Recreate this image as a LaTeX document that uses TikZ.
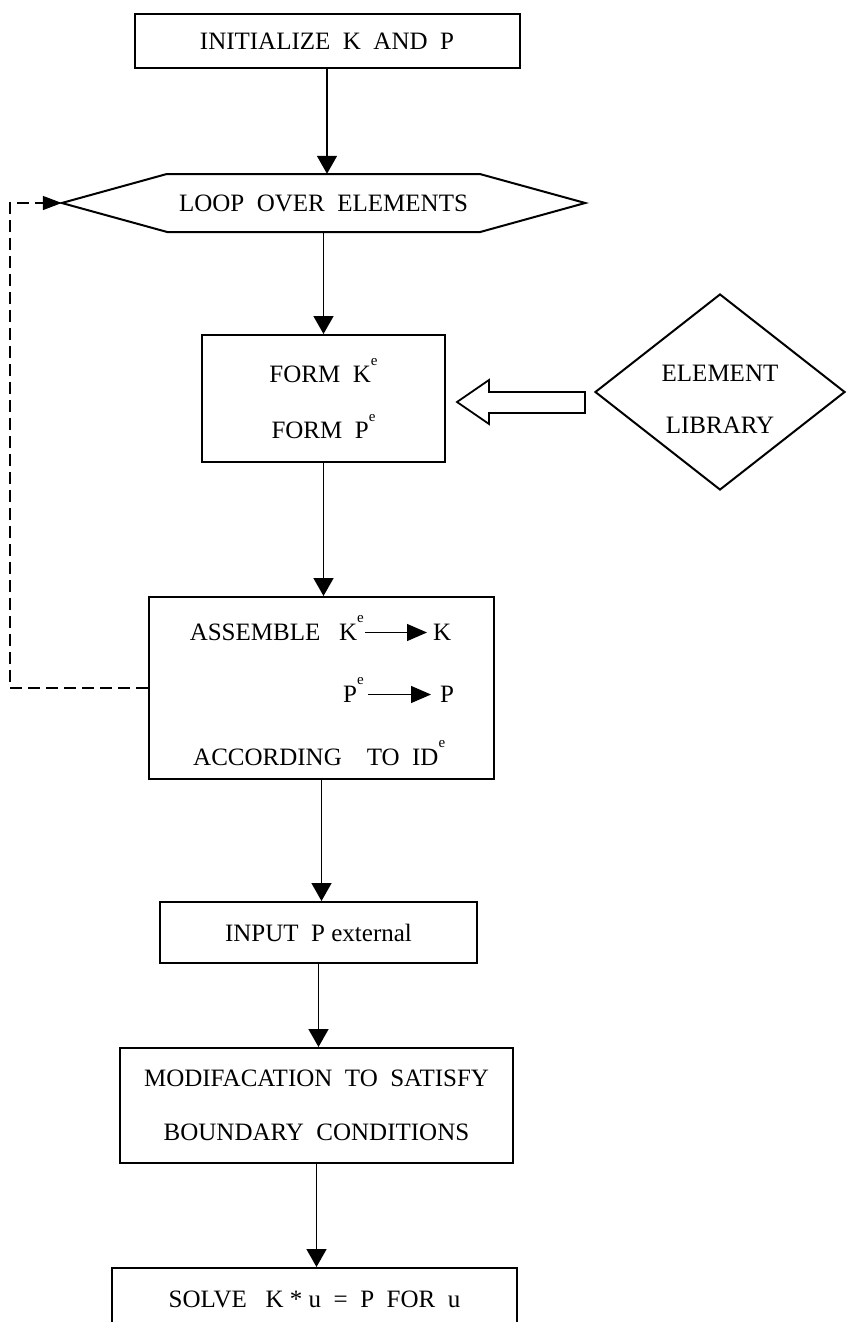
\documentclass[tikz,border=0pt]{standalone}
\usepackage{fontspec}
\setmainfont{Liberation Serif}
\usetikzlibrary{arrows.meta,shapes.geometric}
\newcommand\supe{\raisebox{0.7em}{\fontsize{15}{15}\selectfont e}}
\tikzset{
  txt/.style={font=\fontsize{25}{56}\selectfont},
  box/.style={draw, line width=2pt, txt, align=center, inner sep=0pt},
  flow/.style={line width=1.6pt, -{Triangle[length=18pt,width=20pt]}},
  intext/.style={inner sep=0pt, txt, text height=15pt, text depth=0pt},
  small arrow/.style={line width=1.2pt, -{Triangle[length=20pt,width=17pt]}},
  loopback/.style={line width=1.5pt, dash pattern=on 12pt off 6pt, -{Triangle[length=19pt,width=14pt]}},
}
\begin{document}
\begin{tikzpicture}[x=1pt,y=-1pt]
\useasboundingbox (0,0) rectangle (846,1322);
\clip (0,0) rectangle (846,1322);
\fill[white] (0,0) rectangle (846,1322);

% nodes
\node[box, minimum width=385pt, minimum height=54pt] (init) at (327,41) {INITIALIZE\ \ K\ \ AND\ \ P};

\node[txt, inner sep=0pt, minimum width=523pt, minimum height=58pt] (loop) at (323.5,203) {LOOP\ \ OVER\ \ ELEMENTS};
\draw[line width=2pt] (loop.west) -- ++(105,-29) -- ++(313,0) -- (loop.east) -- ++(-105,29) -- ++(-313,0) -- cycle;

\node[box, minimum width=243pt, minimum height=127pt] (form) at (323.5,398.5) {FORM\ \ K\supe\\FORM\ \ P\supe};

\node[draw, diamond, line width=2pt, minimum width=250pt, minimum height=196pt, inner sep=0pt] (lib) at (720,392) {};
\node[txt, align=center, inner sep=0pt, font=\fontsize{25}{52}\selectfont] (libtxt) at (720,399) {ELEMENT\\LIBRARY};

% block arrow from library to form
\coordinate (btip) at ([xshift=11pt,yshift=-3.5pt]form.east);
\draw[line width=1.8pt] (btip) -- ++(32,-22) -- ++(0,12) -- ++(96,0) -- ++(0,21) -- ++(-96,0) -- ++(0,11) -- cycle;

\node[draw, line width=2pt, minimum width=345pt, minimum height=182pt] (asm) at (321.5,688) {};
\node[intext, anchor=base east] (ake) at (364,640) {ASSEMBLE\ \ \ K\supe};
\node[intext, anchor=base west] (kk) at (433,640) {K};
\node[intext, anchor=base east] (pe) at (364,702) {P\supe};
\node[intext, anchor=base west] (pp) at (440,702) {P};
\node[intext, anchor=base west] (acc) at (193,765) {ACCORDING\ \ \ \ TO\ \ ID\supe};
\draw[small arrow] ([xshift=1pt]ake.east) -- ([xshift=-6pt]kk.west);
\draw[small arrow] ([xshift=4pt]pe.east) -- ([xshift=-9pt]pp.west);

\node[box, minimum width=317pt, minimum height=61pt] (input) at (318.5,932.5) {INPUT\ \ P external};

\node[box, minimum width=393pt, minimum height=115pt, font=\fontsize{25}{54}\selectfont] (modif) at (316.5,1105.5) {MODIFACATION\ \ TO\ \ SATISFY\\BOUNDARY\ \ CONDITIONS};

\node[box, minimum width=405pt, minimum height=62pt] (solve) at (314.5,1299) {SOLVE\ \ \ K\ *\ u\ \ =\ \ P\ \ FOR\ \ u};

% connectors
\draw[flow] (init.south) -- (init.south |- loop.north);
\draw[flow] (loop.south) -- (loop.south |- form.north);
\draw[flow] (form.south) -- (form.south |- asm.north);
\draw[flow] (asm.south) -- (asm.south |- input.north);
\draw[flow] (input.south) -- (input.south |- modif.north);
\draw[flow] (modif.south) -- (modif.south |- solve.north);
\draw[loopback] (asm.west) -- ++(-138,0) coordinate (lb) |- (loop.west);
\end{tikzpicture}
\end{document}
